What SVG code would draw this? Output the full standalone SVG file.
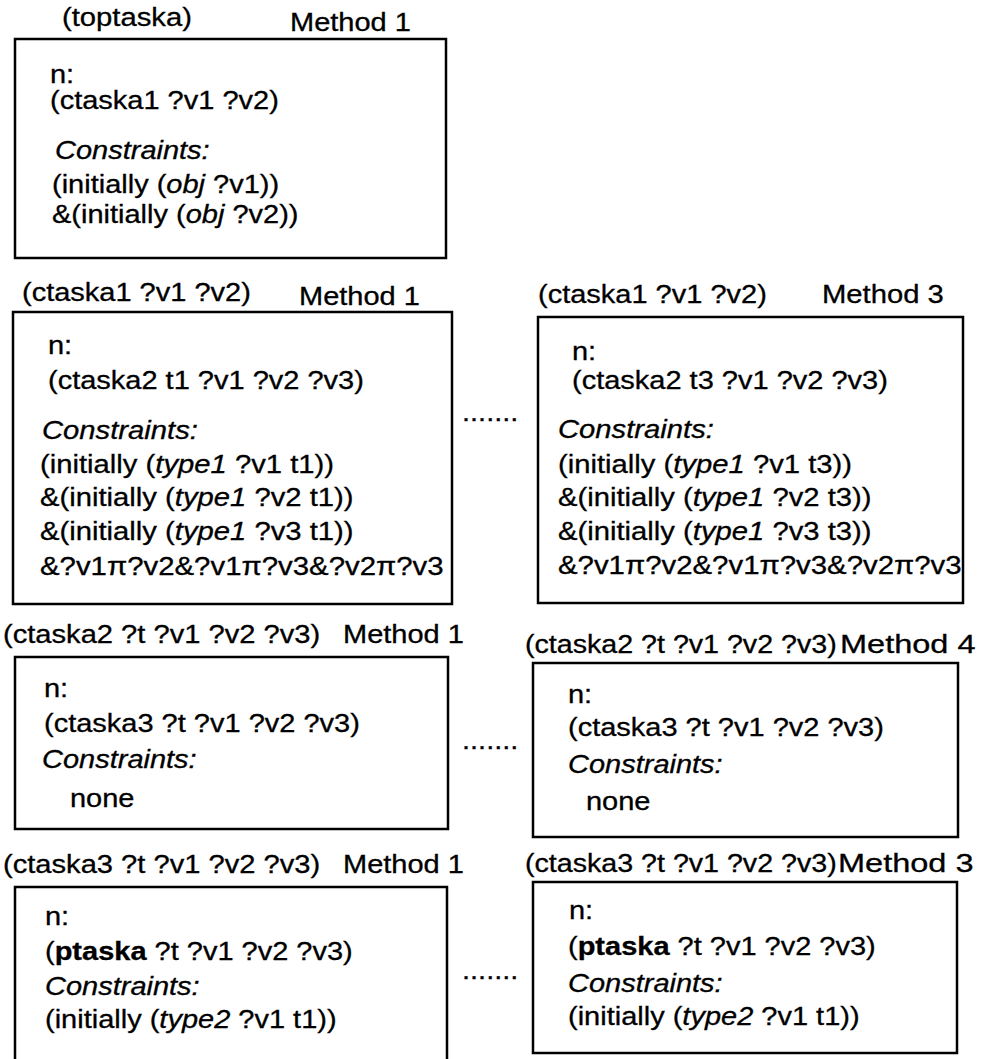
<svg xmlns="http://www.w3.org/2000/svg" width="982" height="1059" viewBox="0 0 982 1059">
  <style>
    .box { fill: #ffffff; stroke: #000000; stroke-width: 2.5; }
    .t { font-family: "Liberation Sans", Arial, sans-serif; font-size: 25px; fill: #000000; stroke: #000000; stroke-width: 0.3; }
    .h { font-size: 26px; }
    .i { font-style: italic; }
    .b { font-weight: bold; }
  </style>
  <rect width="982" height="1059" fill="#ffffff"/>

  <!-- top-level task, method 1 -->
  <g id="toptaska-m1">
    <rect class="box" x="15" y="39" width="431" height="219"/>
    <text class="t" transform="translate(62 26) scale(1.17 1)">(toptaska)</text>
    <text class="t" transform="translate(290 31) scale(1.16 1)">Method 1</text>
    <text class="t" transform="translate(50 83) scale(1.16 1)">n:</text>
    <text class="t" transform="translate(50 109) scale(1.16 1)">(ctaska1 ?v1 ?v2)</text>
    <text class="t i" transform="translate(55 159) scale(1.16 1)">Constraints:</text>
    <text class="t" transform="translate(52 193) scale(1.16 1)">(initially (<tspan class="i">obj</tspan> ?v1))</text>
    <text class="t" transform="translate(52 223) scale(1.16 1)">&amp;(initially (<tspan class="i">obj</tspan> ?v2))</text>
  </g>

  <!-- ctaska1, method 1 -->
  <g id="ctaska1-m1">
    <rect class="box" x="13" y="312" width="439" height="292"/>
    <text class="t" transform="translate(22 301) scale(1.16 1)">(ctaska1 ?v1 ?v2)</text>
    <text class="t" transform="translate(299 305) scale(1.16 1)">Method 1</text>
    <text class="t" transform="translate(48 354) scale(1.16 1)">n:</text>
    <text class="t" transform="translate(48 389) scale(1.16 1)">(ctaska2 t1 ?v1 ?v2 ?v3)</text>
    <text class="t i" transform="translate(42 439) scale(1.17 1)">Constraints:</text>
    <text class="t" transform="translate(40 473) scale(1.17 1)">(initially (<tspan class="i">type1</tspan> ?v1 t1))</text>
    <text class="t" transform="translate(40 506) scale(1.17 1)">&amp;(initially (<tspan class="i">type1</tspan> ?v2 t1))</text>
    <text class="t" transform="translate(40 540) scale(1.17 1)">&amp;(initially (<tspan class="i">type1</tspan> ?v3 t1))</text>
    <text class="t" transform="translate(40 575) scale(1.175 1)">&amp;?v1π?v2&amp;?v1π?v3&amp;?v2π?v3</text>
  </g>

  <!-- ctaska1, method 3 -->
  <g id="ctaska1-m3">
    <rect class="box" x="538" y="317" width="425" height="286"/>
    <text class="t" transform="translate(538 303) scale(1.16 1)">(ctaska1 ?v1 ?v2)</text>
    <text class="t" transform="translate(822 303) scale(1.17 1)">Method 3</text>
    <text class="t" transform="translate(572 360) scale(1.16 1)">n:</text>
    <text class="t" transform="translate(572 389) scale(1.16 1)">(ctaska2 t3 ?v1 ?v2 ?v3)</text>
    <text class="t i" transform="translate(558 438) scale(1.17 1)">Constraints:</text>
    <text class="t" transform="translate(558 473) scale(1.17 1)">(initially (<tspan class="i">type1</tspan> ?v1 t3))</text>
    <text class="t" transform="translate(558 506) scale(1.17 1)">&amp;(initially (<tspan class="i">type1</tspan> ?v2 t3))</text>
    <text class="t" transform="translate(558 540) scale(1.17 1)">&amp;(initially (<tspan class="i">type1</tspan> ?v3 t3))</text>
    <text class="t" transform="translate(558 574) scale(1.175 1)">&amp;?v1π?v2&amp;?v1π?v3&amp;?v2π?v3</text>
  </g>

  <!-- ctaska2, method 1 -->
  <g id="ctaska2-m1">
    <rect class="box" x="15" y="657" width="433" height="172"/>
    <text class="t" transform="translate(3 643) scale(1.165 1)">(ctaska2 ?t ?v1 ?v2 ?v3)</text>
    <text class="t" transform="translate(343 643) scale(1.16 1)">Method 1</text>
    <text class="t" transform="translate(44 697) scale(1.16 1)">n:</text>
    <text class="t" transform="translate(44 732) scale(1.16 1)">(ctaska3 ?t ?v1 ?v2 ?v3)</text>
    <text class="t i" transform="translate(42 768) scale(1.16 1)">Constraints:</text>
    <text class="t" transform="translate(70 807) scale(1.16 1)">none</text>
  </g>

  <!-- ctaska2, method 4 -->
  <g id="ctaska2-m4">
    <rect class="box" x="533" y="663" width="425" height="174"/>
    <text class="t" transform="translate(525 653) scale(1.145 1)">(ctaska2 ?t ?v1 ?v2 ?v3)</text>
    <text class="t h" transform="translate(840 653) scale(1.25 1)">Method 4</text>
    <text class="t" transform="translate(568 703) scale(1.16 1)">n:</text>
    <text class="t" transform="translate(568 736) scale(1.16 1)">(ctaska3 ?t ?v1 ?v2 ?v3)</text>
    <text class="t i" transform="translate(568 773) scale(1.16 1)">Constraints:</text>
    <text class="t" transform="translate(586 810) scale(1.16 1)">none</text>
  </g>

  <!-- ctaska3, method 1 (runs past the lower edge) -->
  <g id="ctaska3-m1">
    <rect class="box" x="15" y="887" width="432" height="200"/>
    <text class="t" transform="translate(3 873) scale(1.165 1)">(ctaska3 ?t ?v1 ?v2 ?v3)</text>
    <text class="t" transform="translate(343 873) scale(1.16 1)">Method 1</text>
    <text class="t" transform="translate(45 925) scale(1.16 1)">n:</text>
    <text class="t" transform="translate(45 960) scale(1.16 1)">(<tspan class="b">ptaska</tspan> ?t ?v1 ?v2 ?v3)</text>
    <text class="t i" transform="translate(45 995) scale(1.16 1)">Constraints:</text>
    <text class="t" transform="translate(45 1028) scale(1.16 1)">(initially (<tspan class="i">type2</tspan> ?v1 t1))</text>
  </g>

  <!-- ctaska3, method 3 -->
  <g id="ctaska3-m3">
    <rect class="box" x="533" y="882" width="424" height="171"/>
    <text class="t" transform="translate(525 872) scale(1.145 1)">(ctaska3 ?t ?v1 ?v2 ?v3)</text>
    <text class="t h" transform="translate(838 872) scale(1.25 1)">Method 3</text>
    <text class="t" transform="translate(569 919) scale(1.16 1)">n:</text>
    <text class="t" transform="translate(568 955) scale(1.16 1)">(<tspan class="b">ptaska</tspan> ?t ?v1 ?v2 ?v3)</text>
    <text class="t i" transform="translate(568 992) scale(1.16 1)">Constraints:</text>
    <text class="t" transform="translate(568 1025) scale(1.16 1)">(initially (<tspan class="i">type2</tspan> ?v1 t1))</text>
  </g>

  <!-- ellipses standing for the methods in between -->
  <g id="connectors">
    <text class="t" transform="translate(462 421) scale(1.16 1)">.......</text>
    <text class="t" transform="translate(462 749) scale(1.16 1)">.......</text>
    <text class="t" transform="translate(462 979) scale(1.16 1)">.......</text>
  </g>
</svg>
